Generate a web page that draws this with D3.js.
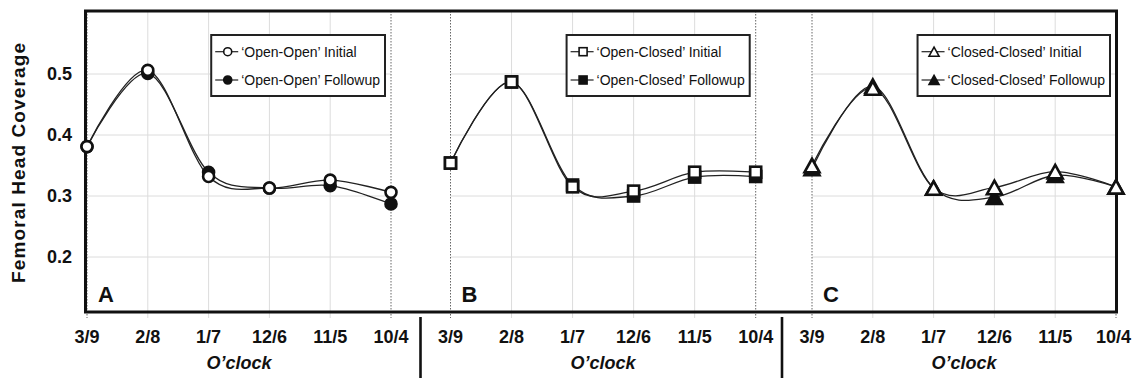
<!DOCTYPE html>
<html>
<head>
<meta charset="utf-8">
<script src="https://cdn.jsdelivr.net/npm/d3@7"></script>
<style>
  html, body { margin: 0; padding: 0; background: #fff; }
  svg { display: block; font-family: "Liberation Sans", Arial, Helvetica, sans-serif; }
</style>
</head>
<body>
<svg id="chart" width="1132" height="378"></svg>
<script>
// ---------- data ----------
const categories = ["3/9", "2/8", "1/7", "12/6", "11/5", "10/4"];
const panelLabels = ["A", "B", "C"];
const yTicks = [0.2, 0.3, 0.4, 0.5];

const openOpenInitial    = [0.381, 0.506, 0.332, 0.313, 0.326, 0.306];
const openOpenFollowup   = [0.381, 0.501, 0.339, 0.313, 0.317, 0.287];
const openClosedInitial  = [0.354, 0.487, 0.315, 0.308, 0.339, 0.339];
const openClosedFollowup = [0.354, 0.487, 0.318, 0.300, 0.331, 0.332];
const closedClosedInitial  = [0.350, 0.477, 0.313, 0.314, 0.340, 0.315];
const closedClosedFollowup = [0.345, 0.480, 0.313, 0.298, 0.334, 0.315];

const legendNames = [
  ["\u2018Open-Open\u2019 Initial", "\u2018Open-Open\u2019 Followup"],
  ["\u2018Open-Closed\u2019 Initial", "\u2018Open-Closed\u2019 Followup"],
  ["\u2018Closed-Closed\u2019 Initial", "\u2018Closed-Closed\u2019 Followup"]
];
const markerShapes = ["circle", "square", "triangle"];
const panelSeries = [
  [openOpenInitial, openOpenFollowup],
  [openClosedInitial, openClosedFollowup],
  [closedClosedInitial, closedClosedFollowup]
];
const xAxisTitle = "O\u2019clock";
const yAxisTitle = "Femoral Head Coverage";

// ---------- layout ----------
const W = 1132;
const svg = d3.select("#chart");
const plotLeft = 85.5, plotRight = 1116.5, plotTop = 11, plotBottom = 312;
const panelRanges = [[87, 391], [450.5, 755.7], [812, 1116]];
const separators = [420.5, 782];

const y = d3.scaleLinear().domain([0.2, 0.5]).range([257, 74]);
const xScales = panelRanges.map(r => d3.scalePoint().domain(categories).range(r));

const gGrid = svg.append("g");
panelRanges.forEach((r, i) => {
  gGrid.selectAll(null).data(yTicks).enter().append("line")
    .attr("x1", r[0]).attr("x2", r[1])
    .attr("y1", d => y(d)).attr("y2", d => y(d))
    .attr("stroke", "#dcdcdc").attr("stroke-width", 1);
  const xs = xScales[i];
  gGrid.selectAll(null).data(categories.slice(1, -1)).enter().append("line")
    .attr("x1", d => xs(d)).attr("x2", d => xs(d))
    .attr("y1", plotTop).attr("y2", plotBottom + 6)
    .attr("stroke", "#dcdcdc").attr("stroke-width", 1);
  [categories[0], categories[categories.length - 1]].forEach(c => {
    gGrid.append("line")
      .attr("x1", xs(c)).attr("x2", xs(c))
      .attr("y1", plotTop).attr("y2", plotBottom + 6)
      .attr("stroke", "#555").attr("stroke-width", 0.9)
      .attr("stroke-dasharray", "1.5,1.5");
  });
});

svg.append("rect")
  .attr("x", plotLeft).attr("y", plotTop)
  .attr("width", plotRight - plotLeft).attr("height", plotBottom - plotTop)
  .attr("fill", "none").attr("stroke", "#111").attr("stroke-width", 3);

svg.selectAll(null).data(separators).enter().append("line")
  .attr("x1", d => d).attr("x2", d => d)
  .attr("y1", 317).attr("y2", 378)
  .attr("stroke", "#111").attr("stroke-width", 2.6);

svg.selectAll(null).data(yTicks).enter().append("text")
  .attr("x", 72).attr("y", d => y(d)).attr("dy", "0.36em")
  .attr("text-anchor", "end")
  .attr("font-size", 18).attr("font-weight", "bold").attr("fill", "#111")
  .text(d => d3.format(".1f")(d));

svg.append("text")
  .attr("transform", "translate(25,163) rotate(-90)")
  .attr("text-anchor", "middle")
  .attr("font-size", 19).attr("font-weight", "bold").attr("fill", "#111")
  .attr("textLength", 240).attr("lengthAdjust", "spacing")
  .text(yAxisTitle);

function drawMarker(g, shape, cx, cy, size, filled, sw) {
  const fill = filled ? "#111" : "#fff";
  if (shape === "circle") {
    g.append("circle").attr("cx", cx).attr("cy", cy).attr("r", size / 2)
      .attr("fill", fill).attr("stroke", "#111").attr("stroke-width", sw);
  } else if (shape === "square") {
    g.append("rect").attr("x", cx - size / 2).attr("y", cy - size / 2)
      .attr("width", size).attr("height", size)
      .attr("fill", fill).attr("stroke", "#111").attr("stroke-width", sw);
  } else {
    const h = size * 0.9;
    const p = [[cx, cy - h / 2], [cx + size / 2, cy + h / 2], [cx - size / 2, cy + h / 2]];
    g.append("path").attr("d", "M" + p.map(q => q.join(",")).join("L") + "Z")
      .attr("fill", fill).attr("stroke", "#111").attr("stroke-width", sw)
      .attr("stroke-linejoin", "miter");
  }
}

const markerSize = { circle: 11, square: 11, triangle: 15 };

panelSeries.forEach((series, i) => {
  const xs = xScales[i];
  const g = svg.append("g");
  const line = d3.line()
    .x((d, j) => xs(categories[j]))
    .y(d => y(d))
    .curve(d3.curveCardinal.tension(0));
  series.forEach(vals => {
    g.append("path").attr("d", line(vals))
      .attr("fill", "none").attr("stroke", "#222").attr("stroke-width", 1.3);
  });
  [1, 0].forEach(k => {
    series[k].forEach((v, j) => {
      drawMarker(g, markerShapes[i], xs(categories[j]), y(v), markerSize[markerShapes[i]], k === 1, 2.6);
    });
  });

  svg.append("text")
    .attr("x", panelRanges[i][0] + 11).attr("y", 302)
    .attr("font-size", 22).attr("font-weight", "bold").attr("fill", "#111")
    .text(panelLabels[i]);

  svg.selectAll(null).data(categories).enter().append("text")
    .attr("x", d => xs(d)).attr("y", 343)
    .attr("text-anchor", "middle")
    .attr("font-size", 18).attr("font-weight", "bold").attr("fill", "#111")
    .text(d => d)
    .each(function(d) {
      const w = this.getComputedTextLength();
      const cx = Math.min(xs(d), W - 1 - w / 2);
      d3.select(this).attr("x", cx);
    });

  svg.append("text")
    .attr("x", (panelRanges[i][0] + panelRanges[i][1]) / 2).attr("y", 369)
    .attr("text-anchor", "middle")
    .attr("font-size", 18).attr("font-weight", "bold").attr("font-style", "italic").attr("fill", "#111")
    .text(xAxisTitle);

  const lg = svg.append("g");
  const right = panelRanges[i][1] - 6;
  const texts = legendNames[i].map((t, k) =>
    lg.append("text").attr("y", [51.7, 80][k]).attr("dy", "0.35em")
      .attr("font-size", 14).attr("fill", "#111").text(t));
  const tw = d3.max(texts, t => t.node().getComputedTextLength());
  const left = right - tw - 5 - 30;
  texts.forEach(t => t.attr("x", left + 30));
  lg.insert("rect", ":first-child")
    .attr("x", left).attr("y", 35).attr("width", right - left).attr("height", 61)
    .attr("fill", "#fff").attr("stroke", "#222").attr("stroke-width", 2);
  [51.7, 80].forEach((ly, k) => {
    lg.append("line").attr("x1", left + 4).attr("x2", left + 27)
      .attr("y1", ly).attr("y2", ly).attr("stroke", "#222").attr("stroke-width", 1.2);
    drawMarker(lg, markerShapes[i], left + 16.5, ly, markerShapes[i] === "triangle" ? 10 : 8, k === 1, 1.6);
  });
});
</script>
</body>
</html>
